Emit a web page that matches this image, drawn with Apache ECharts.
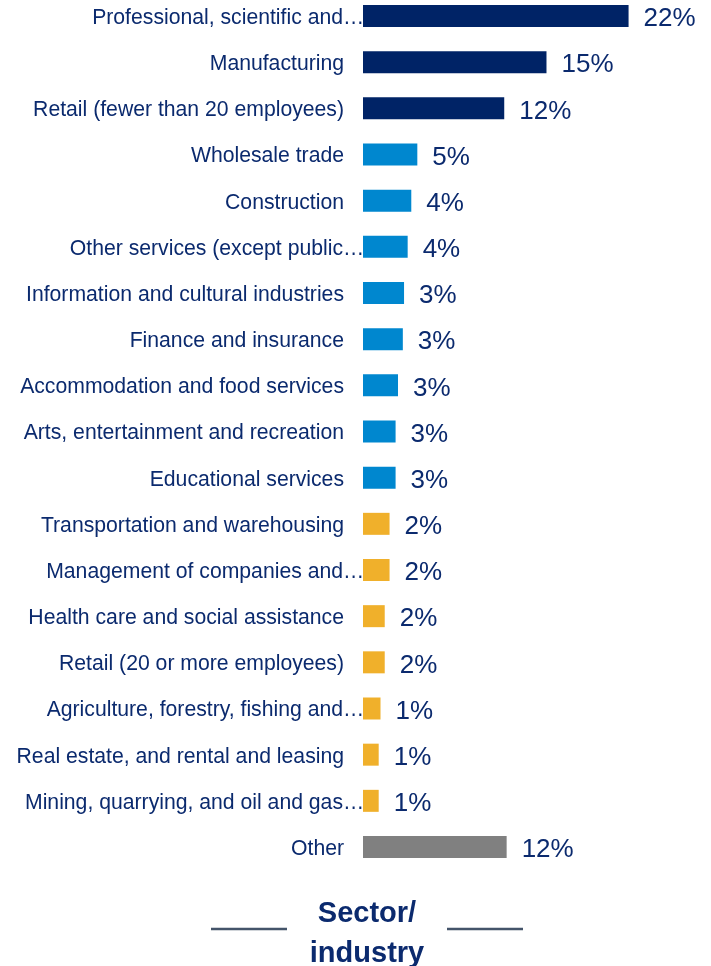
<!DOCTYPE html>
<html>
<head>
<meta charset="utf-8">
<script src="https://cdn.jsdelivr.net/npm/echarts@6/dist/echarts.min.js"></script>
<style>
  html, body { margin: 0; padding: 0; background: #ffffff; }
  #chart { width: 711px; height: 966px; }
</style>
</head>
<body>
<div id="chart"></div>
<script>
// Share of businesses by sector (percent)
const sectors = [
  'Professional, scientific and…',
  'Manufacturing',
  'Retail (fewer than 20 employees)',
  'Wholesale trade',
  'Construction',
  'Other services (except public…',
  'Information and cultural industries',
  'Finance and insurance',
  'Accommodation and food services',
  'Arts, entertainment and recreation',
  'Educational services',
  'Transportation and warehousing',
  'Management of companies and…',
  'Health care and social assistance',
  'Retail (20 or more employees)',
  'Agriculture, forestry, fishing and…',
  'Real estate, and rental and leasing',
  'Mining, quarrying, and oil and gas…',
  'Other'
];
const shares = [22.0, 15.2, 11.7, 4.5, 4.0, 3.7, 3.4, 3.3, 2.9, 2.7, 2.7, 2.2, 2.2, 1.8, 1.8, 1.45, 1.3, 1.3, 11.9];
// Tier of each sector: 0 = leading, 1 = mid, 2 = small, 3 = remainder
const tiers = [0, 0, 0, 1, 1, 1, 1, 1, 1, 1, 1, 2, 2, 2, 2, 2, 2, 2, 3];
const tierColors = ['#002366', '#0087CF', '#F0B02B', '#808080'];

const NAVY = '#0b2a6e';
const FONT = '"Liberation Sans", Arial, sans-serif';
const LABEL_SIZE = 21.2;

const chart = echarts.init(document.getElementById('chart'), null, { renderer: 'canvas' });

chart.setOption({
  backgroundColor: '#ffffff',
  animation: false,
  grid: { left: 363, top: 16, width: 338, bottom: 119, containLabel: false },
  xAxis: {
    type: 'value',
    min: 0,
    max: 28,
    show: false
  },
  yAxis: {
    type: 'category',
    data: sectors,
    inverse: true,
    boundaryGap: false,
    axisLine: { show: false },
    axisTick: { show: false },
    splitLine: { show: false },
    axisLabel: {
      margin: 19,
      color: NAVY,
      fontSize: LABEL_SIZE,
      fontFamily: FONT,
      padding: [4, 0, 0, 0],
      formatter: function (v) {
        // truncated names let the ellipsis run past the label edge
        if (v.endsWith('…')) {
          return '{t|' + v.slice(0, -1) + '}{e|…}';
        }
        return v;
      },
      rich: {
        t: { align: 'left', color: NAVY, fontSize: LABEL_SIZE, fontFamily: FONT },
        e: { align: 'left', width: 1, color: NAVY, fontSize: LABEL_SIZE, fontFamily: FONT }
      }
    }
  },
  series: [{
    type: 'bar',
    barWidth: 22,
    data: shares.map(function (v, i) {
      return { value: v, itemStyle: { color: tierColors[tiers[i]] } };
    }),
    label: {
      show: true,
      position: 'right',
      distance: 15,
      offset: [0, 3],
      color: NAVY,
      fontSize: 26,
      fontFamily: FONT,
      formatter: function (p) { return Math.round(p.value) + '%'; }
    }
  }],
  graphic: [
    {
      type: 'line',
      shape: { x1: 211, y1: 929, x2: 287, y2: 929 },
      style: { stroke: '#44546A', lineWidth: 2.5 }
    },
    {
      type: 'line',
      shape: { x1: 447, y1: 929, x2: 523, y2: 929 },
      style: { stroke: '#44546A', lineWidth: 2.5 }
    },
    {
      type: 'text',
      left: 367 - 60,
      top: 894,
      style: {
        text: 'Sector/\nindustry',
        x: 0,
        y: 0,
        fill: NAVY,
        font: 'bold 29px ' + FONT,
        textAlign: 'center',
        lineHeight: 40,
        width: 120
      }
    }
  ]
});
</script>
</body>
</html>
